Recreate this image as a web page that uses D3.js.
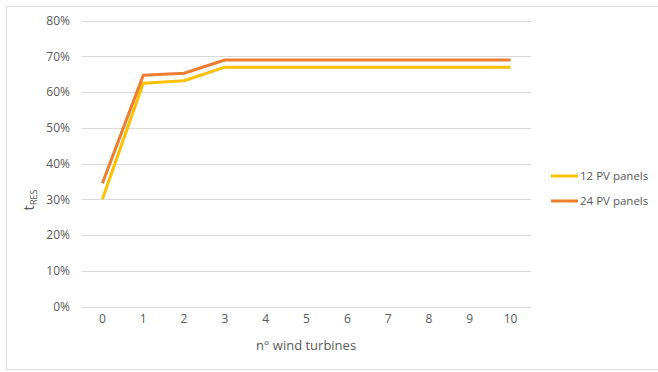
<!doctype html>
<html lang="en">
<head>
<meta charset="UTF-8">
<title>tRES vs wind turbines</title>
<script src="https://cdnjs.cloudflare.com/ajax/libs/d3/7.8.5/d3.min.js"></script>
<style>
    body { margin: 0; background: #fff; }
    text { font-family: "Open Sans", "Noto Sans", sans-serif; fill: #595959; }
</style>
</head>
<body>
<svg id="chart" width="658" height="372"></svg>
<script>

    // data
    var turbines = [0, 1, 2, 3, 4, 5, 6, 7, 8, 9, 10];
    var pv12 = [0.30, 0.625, 0.632, 0.67, 0.67, 0.67, 0.67, 0.67, 0.67, 0.67, 0.67];
    var pv24 = [0.345, 0.647, 0.653, 0.69, 0.69, 0.69, 0.69, 0.69, 0.69, 0.69, 0.69];
    var seriesNames = ['12 PV panels', '24 PV panels'];
    var seriesColors = ['#FFC000', '#ED7D31'];
    var yTicks = [0, 0.1, 0.2, 0.3, 0.4, 0.5, 0.6, 0.7, 0.8];

    var svg = d3.select('#chart');

    // outer frame
    svg.append('rect')
        .attr('x', 6.5).attr('y', 6.5)
        .attr('width', 660).attr('height', 363)
        .attr('fill', 'none')
        .attr('stroke', '#d9d9d9');

    var x = d3.scaleBand()
        .domain(turbines)
        .range([82, 531]);

    var y = d3.scaleLinear()
        .domain([0, 0.8])
        .range([306.5, 20.7]);

    // gridlines
    svg.append('g')
        .selectAll('line')
        .data(yTicks)
        .enter().append('line')
        .attr('x1', 82).attr('x2', 531)
        .attr('y1', function (d) { return Math.round(y(d)) + 0.5; })
        .attr('y2', function (d) { return Math.round(y(d)) + 0.5; })
        .attr('stroke', '#d9d9d9')
        .attr('stroke-width', 1.2);

    // y axis labels
    var yAxis = d3.axisLeft(y)
        .tickValues(yTicks)
        .tickFormat(d3.format('.0%'))
        .tickSize(0)
        .tickPadding(0);

    var gy = svg.append('g')
        .attr('transform', 'translate(70,0)')
        .call(yAxis);
    gy.select('.domain').remove();
    gy.selectAll('text')
        .attr('font-size', 12)
        .style('font-family', '"Open Sans", sans-serif')
        .attr('fill', '#595959');

    // x axis labels
    var xAxis = d3.axisBottom(x).tickSize(0).tickPadding(0);
    var gx = svg.append('g')
        .attr('transform', 'translate(0,314)')
        .call(xAxis);
    gx.select('.domain').remove();
    gx.selectAll('text')
        .attr('font-size', 12)
        .style('font-family', '"Open Sans", sans-serif')
        .attr('fill', '#595959');

    // lines
    var line = d3.line()
        .x(function (d, i) { return x(turbines[i]) + x.bandwidth() / 2; })
        .y(function (d) { return y(d); });

    [pv12, pv24].forEach(function (s, k) {
        svg.append('path')
            .datum(s)
            .attr('d', line)
            .attr('fill', 'none')
            .attr('stroke', seriesColors[k])
            .attr('stroke-width', 3)
            .attr('stroke-linejoin', 'round');
    });

    // axis titles
    svg.append('text')
        .attr('x', 306).attr('y', 350)
        .attr('text-anchor', 'middle')
        .attr('font-size', 13)
        .text('n° wind turbines');

    var yt = svg.append('text')
        .attr('transform', 'translate(34,200) rotate(-90)')
        .attr('text-anchor', 'middle')
        .attr('font-size', 15);
    yt.append('tspan').text('t');
    yt.append('tspan').attr('font-size', 9).attr('dy', 3).text('RES');

    // legend
    var legend = svg.append('g')
        .selectAll('g')
        .data(seriesNames)
        .enter().append('g')
        .attr('transform', function (d, i) { return 'translate(551,' + (176 + i * 25) + ')'; });

    legend.append('line')
        .attr('x1', 0).attr('x2', 27)
        .attr('y1', 0).attr('y2', 0)
        .attr('stroke', function (d, i) { return seriesColors[i]; })
        .attr('stroke-width', 3);

    legend.append('text')
        .attr('x', 29).attr('y', 4)
        .attr('font-size', 11.5)
        .text(function (d) { return d; });

</script>
</body>
</html>
